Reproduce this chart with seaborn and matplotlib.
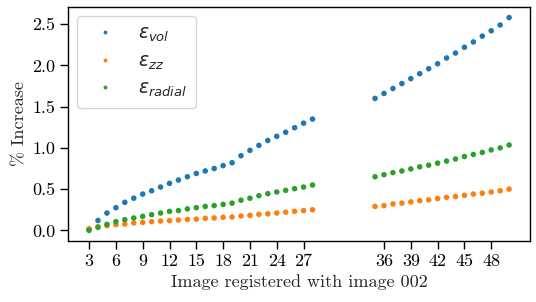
import numpy as np
import pandas as pd
import matplotlib
matplotlib.use("Agg")
import matplotlib.pyplot as plt
import seaborn as sns

# ---- data ----
x_left = list(range(3, 29))
x_right = list(range(35, 51))

vol_left = [0.01, 0.12, 0.21, 0.275, 0.34, 0.39, 0.44, 0.48, 0.525, 0.57, 0.61, 0.65, 0.69,
            0.72, 0.75, 0.785, 0.82, 0.905, 0.97, 1.03, 1.09, 1.14, 1.19, 1.245, 1.30, 1.35]
zz_left = [0.02, 0.045, 0.057, 0.069, 0.077, 0.09, 0.097, 0.105, 0.113, 0.118, 0.125, 0.133, 0.137,
           0.146, 0.15, 0.158, 0.162, 0.174, 0.182, 0.194, 0.20, 0.21, 0.22, 0.23, 0.24, 0.25]
rad_left = [0.0, 0.036, 0.073, 0.105, 0.13, 0.15, 0.17, 0.19, 0.21, 0.23, 0.24, 0.26, 0.275,
            0.29, 0.30, 0.315, 0.33, 0.365, 0.39, 0.42, 0.445, 0.465, 0.485, 0.505, 0.525, 0.55]

vol_right = [1.60, 1.66, 1.72, 1.78, 1.84, 1.90, 1.96, 2.02, 2.09, 2.15, 2.22, 2.285, 2.355,
             2.42, 2.49, 2.58]
zz_right = [0.29, 0.30, 0.32, 0.33, 0.345, 0.36, 0.37, 0.385, 0.40, 0.41, 0.425, 0.44, 0.45,
            0.465, 0.48, 0.50]
rad_right = [0.65, 0.675, 0.70, 0.72, 0.745, 0.77, 0.79, 0.815, 0.84, 0.865, 0.895, 0.92, 0.945,
             0.975, 1.00, 1.035]

labels = [r'$\varepsilon_{vol}$', r'$\varepsilon_{zz}$', r'$\varepsilon_{radial}$']
xticks = [3, 6, 9, 12, 15, 18, 21, 24, 27, 36, 39, 42, 45, 48]
yticks = [0.0, 0.5, 1.0, 1.5, 2.0, 2.5]

xs = x_left + x_right
rows = []
for lab, left, right in zip(labels, [vol_left, zz_left, rad_left], [vol_right, zz_right, rad_right]):
    for xv, yv in zip(xs, left + right):
        rows.append({"x": xv, "y": yv, "series": lab})
df = pd.DataFrame(rows)

# ---- style ----
sns.set_style("ticks")
plt.rcParams['font.family'] = ['cmr10', 'DejaVu Sans']
plt.rcParams['axes.formatter.use_mathtext'] = True
plt.rcParams['mathtext.fontset'] = 'cm'
plt.rcParams['axes.linewidth'] = 1.0
plt.rcParams['xtick.major.size'] = 5.5
plt.rcParams['ytick.major.size'] = 5.5
plt.rcParams['xtick.major.width'] = 1.0
plt.rcParams['ytick.major.width'] = 1.0
plt.rcParams['xtick.color'] = 'black'
plt.rcParams['ytick.color'] = 'black'
plt.rcParams['axes.edgecolor'] = 'black'

fig = plt.figure(figsize=(5.36, 3.02), dpi=100)
ax = fig.add_axes([0.127, 0.202, 0.862, 0.775])

palette = ['#1f77b4', '#ff7f0e', '#2ca02c']
sns.scatterplot(data=df, x="x", y="y", hue="series", palette=palette, s=16,
                linewidth=0, ax=ax, legend=True)

ax.set_xticks(xticks)
ax.set_xticklabels([str(t) for t in xticks], fontsize=13)
ax.set_yticks(yticks)
ax.set_yticklabels([f"{t:.1f}" for t in yticks], fontsize=13)
ax.set_xlabel("Image registered with image 002", fontsize=13)
ax.set_ylabel("% Increase", fontsize=13)
for sp in ax.spines.values():
    sp.set_visible(True)

handles, labs = ax.get_legend_handles_labels()
leg = ax.legend(handles, labs, loc='upper left', fontsize=13.5, handlelength=2.0,
                handletextpad=0.8, labelspacing=0.45, borderpad=0.45, markerscale=0.7,
                frameon=True, fancybox=True, edgecolor='0.8', framealpha=0.8, title=None)
for t in leg.get_texts():
    t.set_math_fontfamily('dejavusans')

fig.savefig("out.png", dpi=100)
